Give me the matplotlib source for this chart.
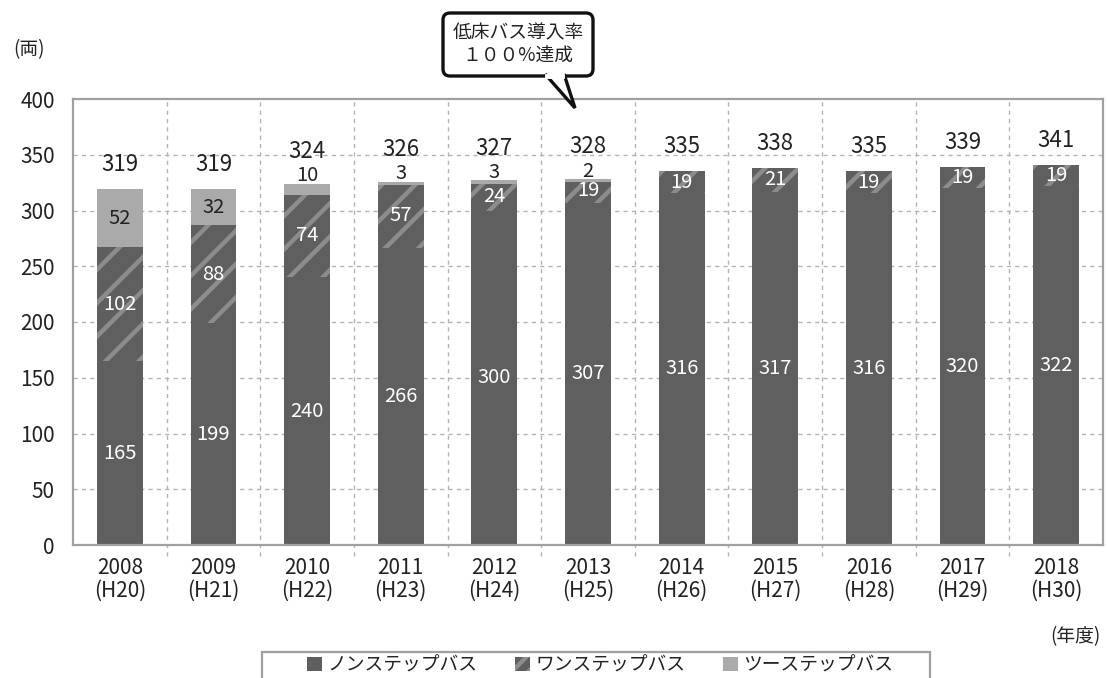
import numpy as np
import matplotlib
matplotlib.use('Agg')
import matplotlib.pyplot as plt
from matplotlib.patches import FancyBboxPatch, Polygon, Rectangle, Patch
from matplotlib.lines import Line2D
from matplotlib.transforms import IdentityTransform

plt.rcParams['font.family'] = ['Noto Sans CJK JP', 'DejaVu Sans']
plt.rcParams['hatch.linewidth'] = 3.2

years = ['2008\n(H20)', '2009\n(H21)', '2010\n(H22)', '2011\n(H23)', '2012\n(H24)', '2013\n(H25)',
         '2014\n(H26)', '2015\n(H27)', '2016\n(H28)', '2017\n(H29)', '2018\n(H30)']
non_step = [165, 199, 240, 266, 300, 307, 316, 317, 316, 320, 322]
one_step = [102, 88, 74, 57, 24, 19, 19, 21, 19, 19, 19]
two_step = [52, 32, 10, 3, 3, 2, 0, 0, 0, 0, 0]
series_names = ['ノンステップバス', 'ワンステップバス', 'ツーステップバス']

W, H = 1107, 678
dark = '#5f5f5f'
stripe = '#8c8c8c'
light = '#aaaaaa'
txt = '#222222'

non = np.array(non_step)
one = np.array(one_step)
two = np.array(two_step)
total = non + one + two
x = np.arange(len(years))

fig = plt.figure(figsize=(W / 100, H / 100), dpi=100)
ax = fig.add_axes([73 / W, 1 - 545 / H, (1103 - 73) / W, (545 - 99) / H])

ax.bar(x, non, width=0.49, color=dark, zorder=2)
ax.bar(x, one, bottom=non, width=0.49, color=dark, edgecolor=stripe, hatch='/', linewidth=0, zorder=2)
ax.bar(x, two, bottom=non + one, width=0.49, color=light, linewidth=0, zorder=2)

ax.set_xlim(-0.5, len(years) - 0.5)
ax.set_ylim(0, 400)
ax.set_yticks(np.arange(0, 401, 50))
ax.set_xticks(x)
ax.set_xticklabels(years, fontsize=15, color=txt, linespacing=1.0)
ax.tick_params(axis='y', length=0, pad=13, labelsize=15, labelcolor=txt)
ax.tick_params(axis='x', length=0, pad=9)

# dashed grid, vertical separators poke out below the axis
for yv in range(50, 400, 50):
    ax.axhline(yv, color='#b3b3b3', lw=1, ls=(0, (3, 3)), zorder=0.5)
for xv in np.arange(0.5, len(years) - 0.5, 1):
    ax.axvline(xv, ymin=-0.025, ymax=1, color='#b3b3b3', lw=1, ls=(0, (3, 3)),
               zorder=0.5, clip_on=False)
for s in ax.spines.values():
    s.set_color('#a0a0a0')
    s.set_linewidth(1.6)

# value labels
for i in range(len(years)):
    ax.text(x[i], non[i] / 2, str(non[i]), ha='center', va='center', color='white', fontsize=14.5, zorder=3)
    small = 0 < two[i] < 20
    one_y = non[i] + one[i] / 2 + (1 if small else 0)
    ax.text(x[i], one_y, str(one[i]), ha='center', va='center', color='white', fontsize=14.5, zorder=3)
    if two[i] >= 20:
        ax.text(x[i], non[i] + one[i] + two[i] / 2, str(two[i]), ha='center', va='center',
                color=txt, fontsize=14.5, zorder=3)
    elif small:
        ax.text(x[i], total[i] + 7, str(two[i]), ha='center', va='center', color=txt, fontsize=14.5, zorder=3)
    ax.text(x[i], total[i] + (29 if small else 22), str(total[i]), ha='center', va='center',
            color=txt, fontsize=16, zorder=3)

fig.text(13 / W, 1 - 50 / H, '(両)', fontsize=13.5, color=txt, va='center', ha='left')
fig.text(1101 / W, 1 - 637 / H, '(年度)', fontsize=13.5, color=txt, va='center', ha='right')

# speech bubble
idt = IdentityTransform()
box = FancyBboxPatch((443, H - 76), 150, 63, boxstyle='round,pad=0,rounding_size=7',
                     facecolor='white', edgecolor='#111111', lw=2.4, transform=idt, zorder=10)
fig.patches.append(box)
tail = Polygon([(545, H - 74), (575, H - 108), (564, H - 74)], closed=False,
               facecolor='white', edgecolor='#111111', lw=2.4, transform=idt, zorder=11)
fig.patches.append(tail)
fig.lines.append(Line2D([547, 562], [H - 76, H - 76], color='white', lw=3.5, transform=idt, zorder=12))
fig.text(518 / W, 1 - 45 / H, '低床バス導入率\n１００%達成', ha='center', va='center',
         fontsize=13.5, color=txt, linespacing=1.15, zorder=13)

# legend with open-bottom frame
frame = Rectangle((262, -10), 668, H - 652 + 10, fill=False, edgecolor='#a0a0a0', lw=1.6, transform=idt)
fig.patches.append(frame)
handles = [Patch(facecolor=dark, lw=0),
           Patch(facecolor=dark, edgecolor=stripe, hatch='//', lw=0),
           Patch(facecolor=light, lw=0)]
fig.legend(handles, series_names, loc='center', bbox_to_anchor=(600 / W, 1 - 665 / H), ncol=3,
           frameon=False, fontsize=13.5, handlelength=0.8, handleheight=0.8, handletextpad=0.3,
           columnspacing=2.0, borderpad=0, labelcolor=txt)

fig.savefig('out.png', dpi=100)
